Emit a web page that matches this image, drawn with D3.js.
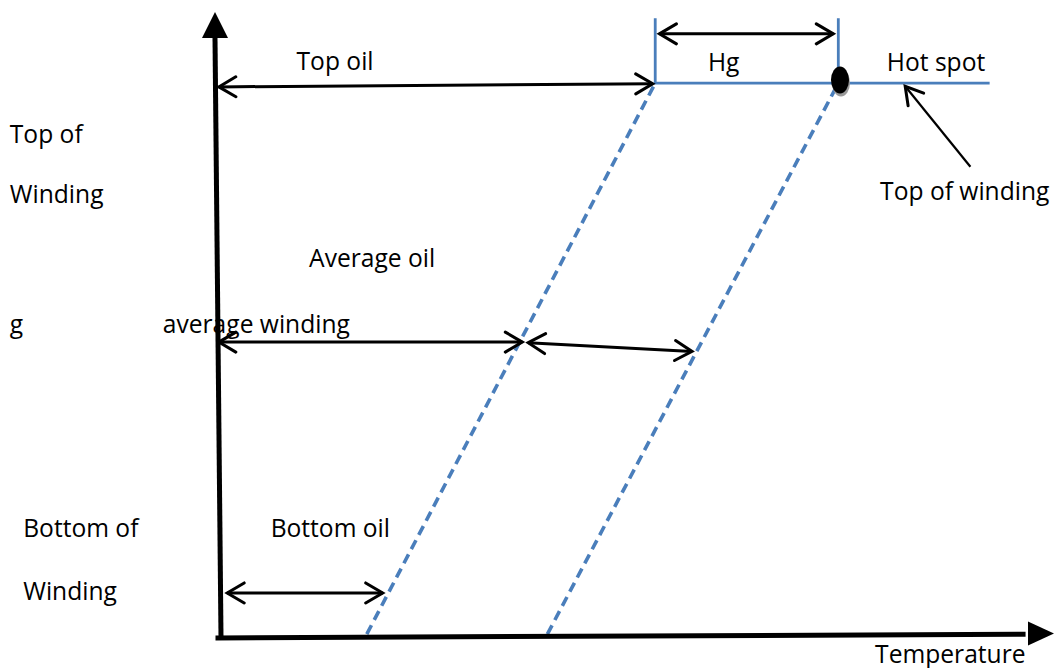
<!DOCTYPE html>
<html>
<head>
<meta charset="utf-8">
<script src="https://cdn.jsdelivr.net/npm/d3@7"></script>
<style>
  html, body { margin: 0; padding: 0; background: #fff; }
  svg { display: block; }
  text { font-family: "Open Sans", "Noto Sans", sans-serif; font-size: 24.6px; fill: #000; }
</style>
</head>
<body>
<svg id="chart" width="1059" height="668"></svg>
<script>
// ---- Data (temperature units along x, height units along y) ----
const heightTop = 88.6;        // top of winding
const heightAvg = 47.1;        // average winding height
const heightBottom = 0.3;      // bottom of winding
const heightBracket = 99.0;    // top of Hg bracket
const heightHgArrow = 96.5;

const topOilTemp = 52.3;       // top oil temperature
const hotSpotTemp = 74.2;      // hot spot temperature
const bottomOilTemp = 17.8;    // bottom oil temperature
const bottomWindingTemp = 39.4;
const topLineEnd = 92.3;

// gradient lines: [temp, height]
const oilProfile = [[bottomOilTemp, heightBottom], [topOilTemp, heightTop]];
const windingProfile = [[bottomWindingTemp, heightBottom], [hotSpotTemp, heightTop]];

// solid lines
const topLine = [[topOilTemp, heightBracket], [topOilTemp, heightTop], [topLineEnd, heightTop]];
const hotSpotBracket = [[hotSpotTemp, heightBracket], [hotSpotTemp, heightTop]];

// double-headed arrows [[t1,h1],[t2,h2]]
const arrowTopOil = [[0.1, 88.0], [52.0, 88.5]];
const arrowHg = [[52.8, heightHgArrow], [73.6, heightHgArrow]];
const arrowAvgOil = [[0.1, 47.1], [36.4, 47.1]];
const arrowAvgWinding = [[37.1, 47.0], [56.7, 45.6]];
const arrowBottomOil = [[1.1, 6.9], [19.7, 6.9]];
// single pointer (tail -> head)
const pointerTopWinding = [[90.0, 75.2], [82.2, 88.1]];
const hotSpotPoint = [74.4, 89.1];

// axes
const yAxisLine = [[0.36, -0.32], [-0.36, 96.0]];
const xAxisLine = [[-0.3, -0.32], [96.6, 0.3]];

// labels: [text, temp, height]
const labels = [
  ["Top oil", 9.4, 90.7],
  ["Hg", 58.6, 90.5],
  ["Hot spot", 80.0, 90.5],
  ["Top of winding", 79.2, 69.9],
  ["Top of", -24.9, 79.0],
  ["Winding", -24.9, 69.4],
  ["Average oil", 10.9, 59.1],
  ["g", -24.9, 48.6],
  ["average winding", -6.6, 48.6],
  ["Bottom of", -23.3, 15.9],
  ["Bottom oil", 6.3, 15.9],
  ["Winding", -23.3, 5.8],
  ["Temperature", 78.6, -4.3]
];

// ---- Drawing ----
const svg = d3.select("#chart");
const x = d3.scaleLinear().domain([0, 100]).range([218, 1054]);
const y = d3.scaleLinear().domain([0, 100]).range([636, 12]);
const line = d3.line().x(d => x(d[0])).y(d => y(d[1]));

const defs = svg.append("defs");
defs.append("marker")
  .attr("id", "chev")
  .attr("markerUnits", "userSpaceOnUse")
  .attr("viewBox", "-20 -12 24 24")
  .attr("markerWidth", 24).attr("markerHeight", 24)
  .attr("refX", 0).attr("refY", 0)
  .attr("orient", "auto-start-reverse")
  .append("path")
  .attr("d", "M-17,-10 L0,0 L-17,10")
  .attr("fill", "none").attr("stroke", "#000").attr("stroke-width", 3)
  .attr("stroke-linecap", "round").attr("stroke-linejoin", "miter");

const blue = "#4a7ebb";

// dashed gradient lines
[oilProfile, windingProfile].forEach(p => {
  svg.append("path").attr("d", line(p))
    .attr("fill", "none").attr("stroke", blue)
    .attr("stroke-width", 3.6).attr("stroke-dasharray", "10,6");
});

// solid blue lines
[topLine, hotSpotBracket].forEach(p => {
  svg.append("path").attr("d", line(p))
    .attr("fill", "none").attr("stroke", blue).attr("stroke-width", 2.8);
});

// axes
svg.append("path").attr("d", line(yAxisLine))
  .attr("stroke", "#000").attr("stroke-width", 5).attr("fill", "none");
svg.append("path").attr("d", line(xAxisLine))
  .attr("stroke", "#000").attr("stroke-width", 5).attr("fill", "none");
// arrowheads of axes
{
  const tx = x(-0.36), ty = y(100);
  svg.append("path")
    .attr("d", `M${tx},${ty} L${tx - 13},${ty + 26} L${tx + 13},${ty + 26} Z`)
    .attr("fill", "#000");
  const ax = x(100), ay = y(0.4);
  svg.append("path")
    .attr("d", `M${ax},${ay} L${ax - 26},${ay - 12} L${ax - 26},${ay + 12} Z`)
    .attr("fill", "#000");
}

// double arrows
[arrowTopOil, arrowHg, arrowAvgOil, arrowAvgWinding, arrowBottomOil].forEach(p => {
  svg.append("path").attr("d", line(p))
    .attr("fill", "none").attr("stroke", "#000").attr("stroke-width", 3)
    .attr("marker-start", "url(#chev)").attr("marker-end", "url(#chev)");
});
svg.append("path").attr("d", line(pointerTopWinding))
  .attr("fill", "none").attr("stroke", "#000").attr("stroke-width", 2.2)
  .attr("marker-end", "url(#chev)");

// hot spot dot with shadow
svg.append("ellipse")
  .attr("cx", x(hotSpotPoint[0]) + 1).attr("cy", y(hotSpotPoint[1]) + 3)
  .attr("rx", 9).attr("ry", 13.5).attr("fill", "#9a9a9a");
svg.append("ellipse")
  .attr("cx", x(hotSpotPoint[0])).attr("cy", y(hotSpotPoint[1]))
  .attr("rx", 9).attr("ry", 13.5).attr("fill", "#000");

// labels
svg.selectAll("text.lbl").data(labels).enter().append("text")
  .attr("class", "lbl")
  .attr("x", d => x(d[1])).attr("y", d => y(d[2]))
  .text(d => d[0]);
</script>
</body>
</html>
